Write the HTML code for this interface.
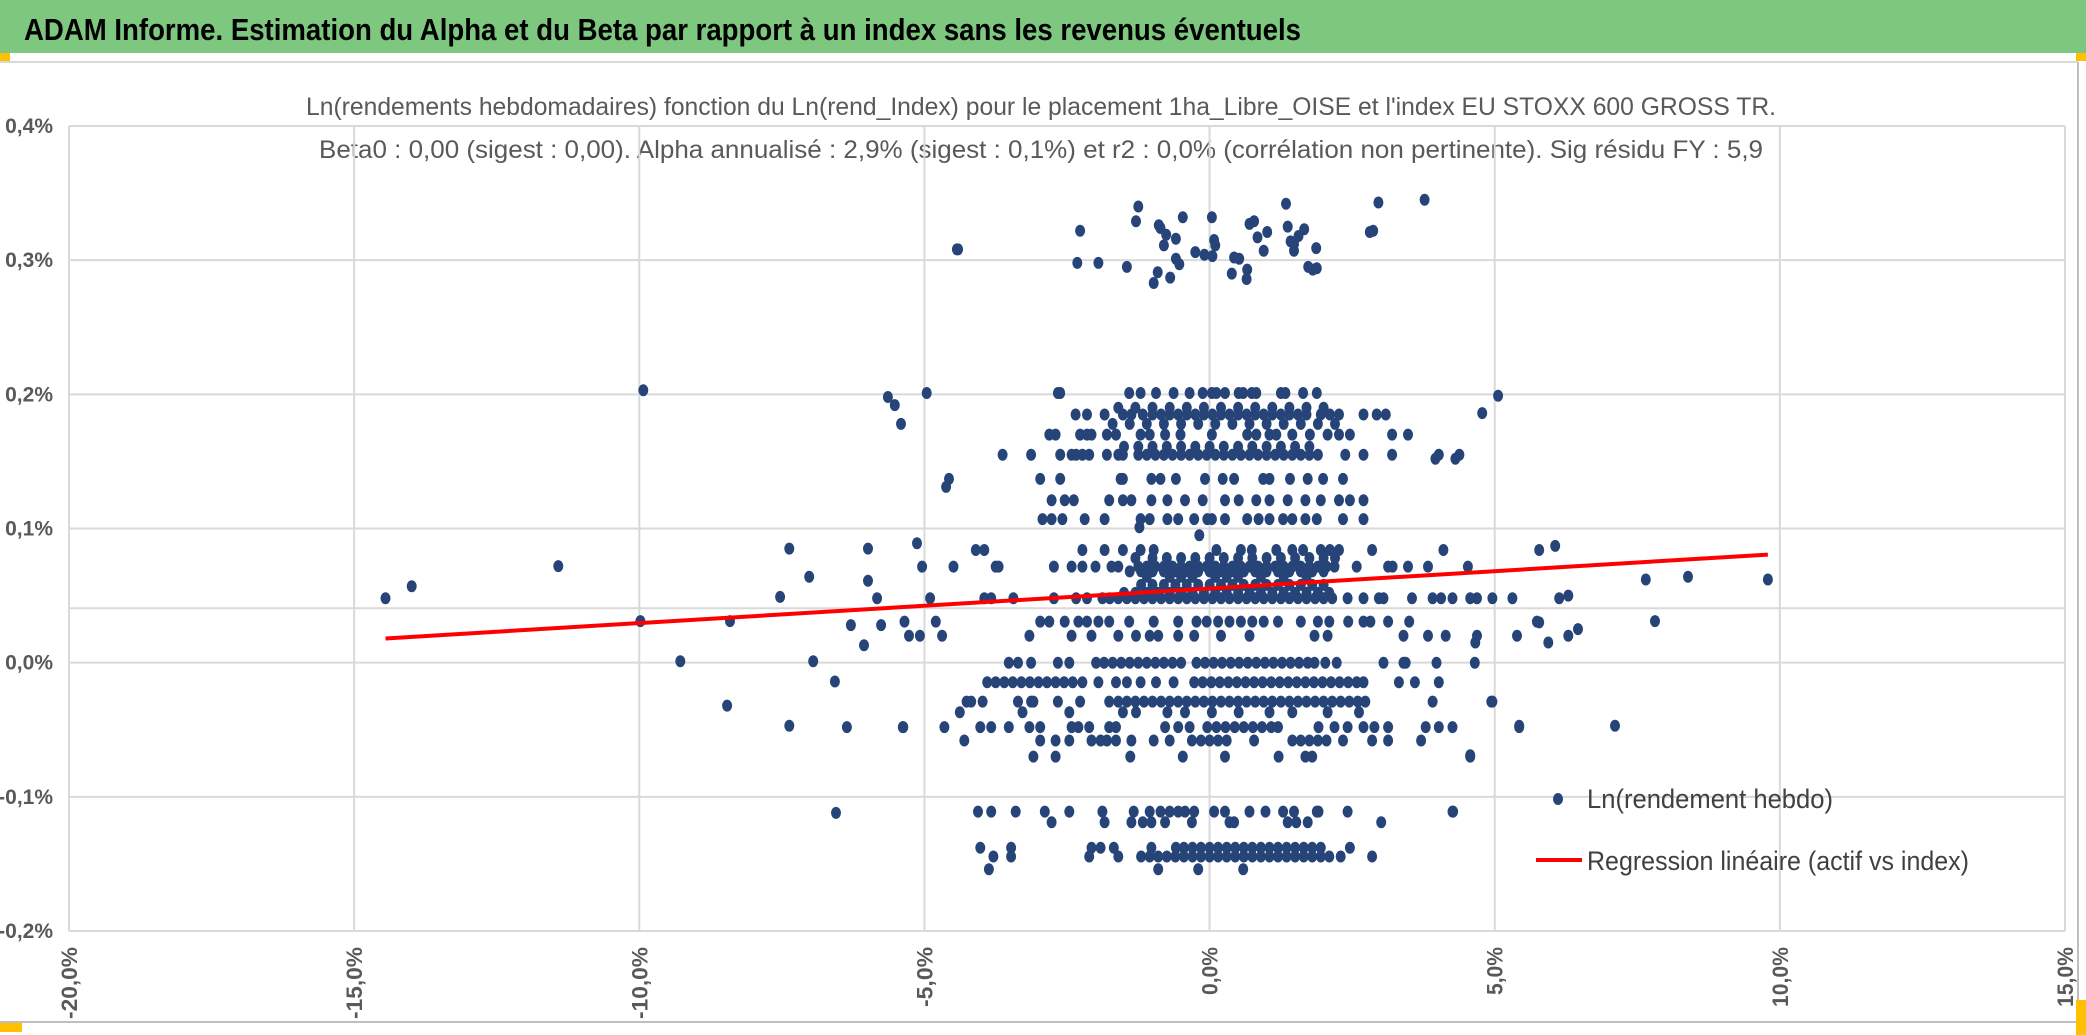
<!DOCTYPE html>
<html><head><meta charset="utf-8"><style>
html,body{margin:0;padding:0;background:#fff;}
svg{display:block;}
.nar{font-family:"Liberation Sans Narrow","Liberation Sans",sans-serif;}
</style></head><body>
<svg id="chart" width="2086" height="1035" viewBox="0 0 2086 1035" xmlns="http://www.w3.org/2000/svg">
<rect x="0" y="0" width="2086" height="1035" fill="#fff"/>
<rect x="0" y="0" width="2086" height="53" fill="#7DC77F"/>
<text class="nar" x="24" y="40" font-size="31" font-weight="bold" fill="#000" textLength="1277" lengthAdjust="spacingAndGlyphs">ADAM Informe. Estimation du Alpha et du Beta par rapport à un index sans les revenus éventuels</text>
<rect x="0" y="53" width="10" height="8" fill="#FFC000"/>
<rect x="2076" y="53" width="10" height="8" fill="#FFC000"/>
<line x1="0" y1="62" x2="2078" y2="62" stroke="#D9D9D9" stroke-width="2"/>
<line x1="2078" y1="62" x2="2078" y2="1022" stroke="#BFBFBF" stroke-width="2"/>
<line x1="0" y1="1022" x2="2078" y2="1022" stroke="#BFBFBF" stroke-width="2"/>
<rect x="0" y="1023" width="22" height="9" fill="#FFC000"/>
<rect x="2076" y="1000" width="10" height="35" fill="#FFC000"/>
<text class="nar" x="306" y="115" font-size="25" fill="#595959" textLength="1470" lengthAdjust="spacingAndGlyphs">Ln(rendements hebdomadaires) fonction du Ln(rend_Index) pour le placement 1ha_Libre_OISE et l'index EU STOXX 600 GROSS TR.</text>
<text class="nar" x="319" y="158" font-size="25" fill="#595959" textLength="1444" lengthAdjust="spacingAndGlyphs">Beta0 : 0,00 (sigest : 0,00). Alpha annualisé : 2,9% (sigest : 0,1%) et r2 : 0,0% (corrélation non pertinente). Sig résidu FY : 5,9</text>
<g id="grid"></g>
<g id="axes"></g>
<g id="dots"></g>
<g id="reg"></g>
<g>
<ellipse cx="1558" cy="799" rx="5" ry="6" fill="#264478"/>
<text class="nar" x="1587" y="808" font-size="27" fill="#404040" textLength="246" lengthAdjust="spacingAndGlyphs">Ln(rendement hebdo)</text>
<line x1="1536" y1="860" x2="1582" y2="860" stroke="#FF0000" stroke-width="4"/>
<text class="nar" x="1587" y="870" font-size="27" fill="#404040" textLength="382" lengthAdjust="spacingAndGlyphs">Regression linéaire (actif vs index)</text>
</g>
</svg>
<script>
const xTicks=[-20,-15,-10,-5,0,5,10,15];
const xTickLabels=["-20,0%","-15,0%","-10,0%","-5,0%","0,0%","5,0%","10,0%","15,0%"];
const yTicks=[0.4,0.3,0.2,0.1,0,-0.1,-0.2];
const yTickLabels=["0,4%","0,3%","0,2%","0,1%","0,0%","-0,1%","-0,2%"];
const axisCrossY=0.0406;
const regIntercept=0.0553;
const regSlope=0.00258;
const regXRange=[-14.45,9.79];
const rowLevels=[0.048,0.058,0.064,0.0716,0.084,0.0306,0.02,0.0,-0.0146,-0.029,-0.037,-0.048,-0.058,-0.070,-0.111,-0.119,-0.138,-0.1445,-0.154,0.201,0.185,0.17,0.155,0.137,0.121,0.107,0.052,0.068,0.078,0.161,0.178,0.19];
const rowXs=[
[-4.9,-3.95,-3.83,-3.44,-2.73,-2.34,-2.15,-1.88,-1.75,-1.6,-1.45,-1.3,-1.15,-1.0,-0.85,-0.7,-0.55,-0.4,-0.25,-0.1,0.05,0.2,0.35,0.5,0.65,0.8,0.95,1.1,1.25,1.4,1.55,1.7,1.85,2.0,2.15,2.42,2.7,2.97,3.05,3.55,3.91,4.06,4.26,4.57,4.69,4.96,5.31,6.13],
[-1.2,-1.0,-0.8,-0.6,-0.4,-0.2,0,0.2,0.4,0.6,0.8,1.0,1.2,1.4,1.6,1.8,2.0],
[-1.1,-0.7,-0.3,0.1,0.5,0.9,1.3,1.7,-0.5,0.3],
[-5.04,-4.49,-3.75,-3.7,-2.73,-2.42,-2.23,-2.0,-1.72,-1.6,-1.25,-1.1,-0.95,-0.8,-0.65,-0.5,-0.35,-0.2,-0.05,0.1,0.25,0.4,0.55,0.7,0.85,1.0,1.15,1.3,1.45,1.6,1.75,1.9,2.05,2.19,2.58,3.13,3.21,3.48,3.83,4.53],
[-4.1,-3.95,-2.23,-1.84,-1.52,-1.21,-0.98,0.12,0.55,0.74,1.17,1.45,1.64,1.95,2.11,2.27,2.85,4.1,5.78],
[-5.35,-4.8,-2.97,-2.81,-2.54,-2.3,-2.15,-1.95,-1.76,-1.41,-0.98,-0.55,-0.23,-0.05,0.15,0.35,0.55,0.75,0.95,1.2,1.6,1.9,2.1,2.43,2.7,2.82,3.13,3.5,5.74],
[-5.27,-5.08,-4.69,-3.16,-2.42,-2.07,-1.6,-1.29,-1.05,-0.9,-0.55,-0.27,0.2,0.7,1.84,2.07,3.4,3.83,4.14,4.69,5.39,6.29],
[-3.52,-3.36,-3.13,-2.66,-2.46,-1.99,-1.85,-1.7,-1.55,-1.4,-1.25,-1.1,-0.95,-0.8,-0.65,-0.5,-0.23,-0.08,0.07,0.22,0.37,0.52,0.67,0.82,0.97,1.12,1.27,1.42,1.57,1.72,1.84,2.03,2.23,3.05,3.4,3.44,3.98,4.65],
[-3.9,-3.75,-3.6,-3.45,-3.3,-3.15,-3.0,-2.85,-2.7,-2.55,-2.4,-2.23,-1.95,-1.64,-1.45,-1.21,-0.94,-0.63,-0.27,-0.12,0.03,0.18,0.33,0.48,0.63,0.78,0.93,1.08,1.23,1.38,1.53,1.68,1.83,1.98,2.13,2.28,2.43,2.58,2.7,3.32,3.6,4.02],
[-4.26,-4.18,-3.98,-3.36,-3.13,-3.09,-2.66,-2.27,-1.76,-1.6,-1.45,-1.3,-1.15,-1.0,-0.85,-0.7,-0.55,-0.4,-0.25,-0.1,0.05,0.2,0.35,0.5,0.65,0.8,0.95,1.1,1.25,1.4,1.55,1.7,1.85,2.0,2.15,2.3,2.45,2.6,2.73,3.91,4.96],
[-4.38,-3.28,-2.46,-1.52,-1.29,-0.74,-0.43,0.04,0.51,1.05,1.45,2.07,2.62],
[-5.37,-4.65,-4.02,-3.83,-3.52,-3.16,-2.97,-2.42,-2.3,-2.11,-1.76,-1.64,-0.78,-0.55,-0.35,-0.04,0.12,0.28,0.44,0.6,0.76,0.92,1.08,1.2,1.91,2.19,2.42,2.7,2.89,3.13,3.79,4.02,4.26,5.43],
[-4.3,-2.97,-2.7,-2.46,-2.07,-1.91,-1.8,-1.64,-1.37,-0.98,-0.7,-0.31,-0.15,0.0,0.15,0.3,0.78,1.45,1.6,1.75,1.9,2.05,2.34,2.85,3.13,3.71],
[-3.09,-2.7,-1.39,-0.47,0.27,1.21,1.68,1.8,4.57],
[-4.06,-3.83,-3.4,-2.89,-2.46,-1.88,-1.33,-1.05,-0.86,-0.7,-0.55,-0.43,-0.27,0.08,0.27,0.7,0.98,1.29,1.48,1.88,1.91,2.42,4.26],
[-2.77,-1.84,-1.37,-1.17,-1.02,-0.78,-0.31,0.35,0.43,1.37,1.52,1.72,3.01],
[-4.02,-3.48,-2.07,-1.91,-1.68,-1.02,-0.59,-0.45,-0.3,-0.15,0.0,0.15,0.3,0.45,0.6,0.75,0.9,1.05,1.2,1.35,1.5,1.65,1.8,1.95,2.46],
[-3.79,-3.48,-2.11,-1.6,-1.2,-1.05,-0.9,-0.75,-0.6,-0.45,-0.3,-0.15,0.0,0.15,0.3,0.45,0.6,0.75,0.9,1.05,1.2,1.35,1.5,1.65,1.8,1.95,2.1,2.3,2.85],
[-3.87,-0.9,-0.2,0.59],
[-2.66,-2.62,-1.41,-1.21,-0.94,-0.63,-0.35,-0.12,0.04,0.12,0.27,0.51,0.59,0.74,0.82,1.25,1.33,1.64,1.88],
[-2.35,-2.15,-1.84,-1.52,-1.37,-1.17,-1.0,-0.85,-0.7,-0.55,-0.4,-0.25,-0.1,0.05,0.2,0.35,0.5,0.65,0.8,0.95,1.1,1.25,1.4,1.55,1.7,1.95,2.11,2.27,2.7,2.93,3.09],
[-2.81,-2.7,-2.27,-2.15,-2.07,-1.8,-1.64,-1.21,-1.05,-0.78,-0.51,0.04,0.66,0.82,1.05,1.17,1.45,1.76,2.07,2.27,2.46,3.2,3.48],
[-3.63,-3.13,-2.62,-2.42,-2.34,-2.23,-2.11,-1.8,-1.6,-1.52,-1.25,-1.1,-0.95,-0.8,-0.65,-0.5,-0.35,-0.2,-0.05,0.1,0.25,0.4,0.55,0.7,0.85,1.0,1.15,1.3,1.45,1.6,1.75,1.9,2.38,2.7,3.2,4.02,4.38],
[-4.57,-2.97,-2.62,-1.56,-1.52,-1.02,-0.86,-0.59,-0.08,0.23,0.43,0.94,1.05,1.41,1.72,1.99,2.34],
[-2.77,-2.54,-2.38,-1.76,-1.52,-1.37,-1.02,-0.74,-0.43,-0.12,0.27,0.51,0.82,1.05,1.37,1.68,1.95,2.27,2.46,2.7],
[-2.93,-2.77,-2.58,-2.19,-1.84,-1.21,-1.05,-0.74,-0.55,-0.27,-0.04,0.04,0.27,0.66,0.86,1.05,1.29,1.45,1.68,1.88,2.34,2.7],
[-1.5,-1.3,-1.1,-0.9,-0.7,-0.5,-0.3,-0.1,0.1,0.3,0.5,0.7,0.9,1.1,1.3,1.5,1.7,1.9,2.1],
[-1.4,-1.2,-1.0,-0.8,-0.6,-0.4,-0.2,0.0,0.2,0.4,0.6,0.8,1.0,1.2,1.4,1.6,1.8,2.0],
[-1.3,-1.0,-0.75,-0.5,-0.25,0.0,0.25,0.5,0.75,1.0,1.25,1.5,1.75,2.0,2.2],
[-1.5,-1.25,-1.0,-0.75,-0.5,-0.25,0.0,0.25,0.5,0.75,1.0,1.25,1.5,1.75],
[-1.7,-1.4,-1.1,-0.8,-0.5,-0.2,0.1,0.4,0.7,1.0,1.3,1.6,1.9,2.2],
[-1.6,-1.3,-1.0,-0.7,-0.4,-0.1,0.2,0.5,0.8,1.1,1.4,1.7,2.0]
];
const extraX=[-4.41,-2.27,-1.25,-1.29,-0.86,-0.76,-0.89,-0.59,-0.47,-0.80,-0.59,-0.53,-0.25,-0.09,0.04,0.08,0.10,0.05,0.43,0.52,0.70,0.78,0.84,0.95,1.01,1.34,1.42,1.48,1.37,1.48,1.56,1.66,1.88,1.87,1.73,1.81,2.81,2.87,2.96,3.77,-2.32,-1.95,-1.45,-0.91,-0.98,-0.69,0.39,0.66,0.65,-4.43,
-14.45,-13.99,-11.42,-9.98,-9.28,-8.41,-8.46,-7.37,-7.37,-7.02,-7.53,-9.93,-6.57,-6.55,-6.36,-6.95,-5.99,-5.99,-5.83,-5.64,-5.52,-5.41,-4.96,-4.62,-6.29,-6.06,-5.76,-5.38,-5.13,
5.06,4.78,3.96,4.31,6.06,7.65,7.81,8.39,9.79,6.29,6.46,5.78,5.94,5.43,4.94,7.11,4.57,4.27,4.66,-1.23,-0.18];
const extraY=[0.308,0.322,0.340,0.329,0.324,0.319,0.326,0.316,0.332,0.311,0.301,0.297,0.306,0.304,0.332,0.315,0.311,0.303,0.302,0.301,0.327,0.329,0.317,0.307,0.321,0.342,0.314,0.312,0.325,0.307,0.318,0.323,0.294,0.309,0.295,0.293,0.321,0.322,0.343,0.345,0.298,0.298,0.295,0.291,0.283,0.287,0.290,0.293,0.286,0.308,
0.048,0.057,0.072,0.031,0.001,0.031,-0.032,0.085,-0.047,0.064,0.049,0.203,-0.014,-0.112,-0.048,0.001,0.085,0.061,0.048,0.198,0.192,0.178,0.201,0.131,0.028,0.013,0.028,-0.048,0.089,
0.199,0.186,0.152,0.152,0.087,0.062,0.031,0.064,0.062,0.05,0.025,0.03,0.015,-0.047,-0.029,-0.047,-0.069,-0.111,0.015,0.101,0.095];

const NS="http://www.w3.org/2000/svg";
const X0=-20,X1=15,PX0=69,PX1=2065;
const Y0=-0.2,Y1=0.4,PY0=931,PY1=126;
function xs(v){return PX0+(v-X0)*(PX1-PX0)/(X1-X0);}
function ys(v){return PY0-(v-Y0)*(PY0-PY1)/(Y1-Y0);}
function mk(tag,attrs,parent){const e=document.createElementNS(NS,tag);for(const k in attrs)e.setAttribute(k,attrs[k]);parent.appendChild(e);return e;}
const grid=document.getElementById('grid'),axes=document.getElementById('axes'),dots=document.getElementById('dots'),reg=document.getElementById('reg');
yTicks.forEach((t,i)=>{
  const l=mk('line',{x1:PX0,x2:PX1,y1:ys(t),y2:ys(t),stroke:'#D9D9D9','stroke-width':2},grid);
  
  
  const tx=mk('text',{x:53,y:ys(t)+7,'text-anchor':'end','font-size':21,'font-weight':'bold',fill:'#595959',class:'nar'},axes);
  tx.textContent=yTickLabels[i];
  
  
});
const ax=mk('line',{x1:PX0,x2:PX1,y1:ys(axisCrossY),y2:ys(axisCrossY),stroke:'#D9D9D9','stroke-width':2},grid);


xTicks.forEach((t,i)=>{
  const l=mk('line',{x1:xs(t),x2:xs(t),y1:PY1,y2:PY0,stroke:'#D9D9D9','stroke-width':2},grid);
  
  
  const len=xTickLabels[i].length*12;
  const tx=mk('text',{x:0,y:0,'text-anchor':'end','font-size':22,'font-weight':'bold',fill:'#595959',class:'nar',transform:'translate('+(xs(t)+8)+',947) rotate(-90)',textLength:len,lengthAdjust:'spacingAndGlyphs'},axes);
  tx.textContent=xTickLabels[i];
  
  
});
function dot(x,y){
  const e=mk('ellipse',{cx:xs(x).toFixed(1),cy:ys(y).toFixed(1),rx:5,ry:6,fill:'#264478'},dots);
  
  
}
rowLevels.forEach((lv,i)=>rowXs[i].forEach(x=>dot(x,lv)));
extraX.forEach((x,i)=>dot(x,extraY[i]));
const rl=mk('line',{x1:xs(regXRange[0]),y1:ys(regIntercept+regSlope*regXRange[0]),x2:xs(regXRange[1]),y2:ys(regIntercept+regSlope*regXRange[1]),stroke:'#FF0000','stroke-width':4},reg);


</script>
</body></html>
